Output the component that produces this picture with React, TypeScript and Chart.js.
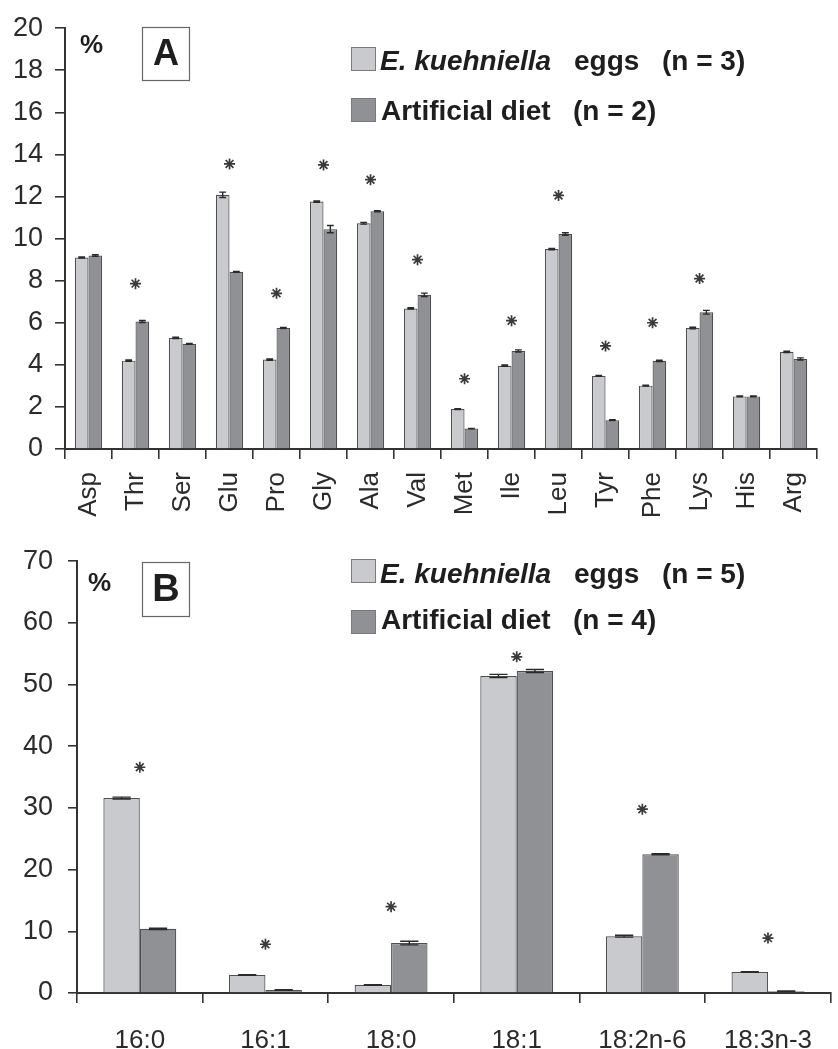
import React, { useEffect, useRef } from 'react';
import { Chart, registerables } from 'chart.js';

Chart.register(...registerables);

// ---------- Panel A: amino acids ----------
const aminoAcids = ['Asp', 'Thr', 'Ser', 'Glu', 'Pro', 'Gly', 'Ala', 'Val', 'Met', 'Ile', 'Leu', 'Tyr', 'Phe', 'Lys', 'His', 'Arg'];
const aEggs = [9.1, 4.2, 5.28, 12.08, 4.25, 11.76, 10.73, 6.68, 1.9, 3.96, 9.5, 3.47, 3.01, 5.75, 2.5, 4.62];
const aDiet = [9.2, 6.06, 5.0, 8.42, 5.75, 10.45, 11.3, 7.33, 0.97, 4.66, 10.22, 1.37, 4.19, 6.5, 2.5, 4.28];
const aEggsErr = [0.03, 0.03, 0.03, 0.13, 0.03, 0.03, 0.04, 0.03, 0.02, 0.03, 0.03, 0.02, 0.02, 0.04, 0.02, 0.03];
const aDietErr = [0.04, 0.05, 0.02, 0.02, 0.03, 0.17, 0.03, 0.08, 0.01, 0.05, 0.06, 0.02, 0.03, 0.09, 0.02, 0.05];
const aStars = [null, 7.86, null, 13.55, 7.4, 13.5, 12.8, 9.0, 3.34, 6.1, 12.05, 4.9, 6.0, 8.1, null, null];
const aTicks = { min: 0, max: 20, step: 2 };
const aLegend = [
  [{ t: 'E. kuehniella', italic: true }, { t: 'eggs' }, { t: '(n = 3)' }],
  [{ t: 'Artificial diet' }, { t: '(n = 2)' }],
];

// ---------- Panel B: fatty acids ----------
const fattyAcids = ['16:0', '16:1', '18:0', '18:1', '18:2n-6', '18:3n-3'];
const bEggs = [31.6, 2.9, 1.3, 51.4, 9.2, 3.4];
const bDiet = [10.4, 0.5, 8.1, 52.2, 22.5, 0.3];
const bEggsErr = [0.15, 0.05, 0.05, 0.25, 0.15, 0.05];
const bDietErr = [0.1, 0.05, 0.3, 0.25, 0.1, 0.03];
const bStars = [36.6, 7.9, 14.0, 54.5, 29.8, 8.9];
const bTicks = { min: 0, max: 70, step: 10 };
const bLegend = [
  [{ t: 'E. kuehniella', italic: true }, { t: 'eggs' }, { t: '(n = 5)' }],
  [{ t: 'Artificial diet' }, { t: '(n = 4)' }],
];

const LIGHT = '#c9cacd';
const DARK = '#909195';
const EDGE = '#4f4f4f';
const AXIS = '#333333';
const FONT = '"Liberation Sans", Arial, Helvetica, sans-serif';

type Piece = { t: string; italic?: boolean };

interface PanelCfg {
  letter: string;
  letterSize: number;
  errors: number[][];
  legend: Piece[][];
  legendX: number[][];
  legendBaseY: number[];
  boxTop: number[];
  letterBox: { x: number; y: number; w: number; h: number };
  pct: { x: number; y: number };
}

function makeOverlay(cfg: PanelCfg) {
  return {
    id: 'overlay' + cfg.letter,
    afterDatasetsDraw(chart: any) {
      const ctx = chart.ctx;
      const ys = chart.scales.y;
      cfg.errors.forEach((errs, di) => {
        const meta = chart.getDatasetMeta(di);
        const ds = chart.data.datasets[di];
        meta.data.forEach((el: any, i: number) => {
          const v = ds.data[i];
          const e = errs[i];
          if (!e) return;
          const x = el.x;
          const w = el.width * 0.5;
          const yt = ys.getPixelForValue(v + e);
          const yb = ys.getPixelForValue(v - e);
          ctx.save();
          ctx.strokeStyle = '#2a2a2a';
          ctx.lineWidth = 1.4;
          ctx.beginPath();
          ctx.moveTo(x, yt);
          ctx.lineTo(x, yb);
          ctx.moveTo(x - w / 2, yt);
          ctx.lineTo(x + w / 2, yt);
          ctx.moveTo(x - w / 2, yb);
          ctx.lineTo(x + w / 2, yb);
          ctx.stroke();
          ctx.restore();
        });
      });
    },
    afterDraw(chart: any) {
      const ctx = chart.ctx;
      ctx.save();
      // percent sign
      ctx.fillStyle = '#1e1e1e';
      ctx.font = `bold 26px ${FONT}`;
      ctx.textAlign = 'left';
      ctx.textBaseline = 'alphabetic';
      ctx.fillText('%', cfg.pct.x, cfg.pct.y);
      // letter box
      const lb = cfg.letterBox;
      ctx.strokeStyle = '#666';
      ctx.lineWidth = 1.2;
      ctx.strokeRect(lb.x + 0.5, lb.y + 0.5, lb.w, lb.h);
      ctx.font = `bold ${cfg.letterSize}px ${FONT}`;
      ctx.textAlign = 'center';
      ctx.textBaseline = 'middle';
      ctx.fillText(cfg.letter, lb.x + lb.w / 2 + 0.5, lb.y + lb.h / 2 + 2);
      // legend
      const fills = [LIGHT, DARK];
      cfg.legend.forEach((row, ri) => {
        const top = cfg.boxTop[ri];
        ctx.fillStyle = fills[ri];
        ctx.fillRect(351, top, 25, 24);
        ctx.strokeStyle = '#7a7a7a';
        ctx.lineWidth = 1;
        ctx.strokeRect(351.5, top + 0.5, 24, 23);
        ctx.fillStyle = '#1e1e1e';
        ctx.textAlign = 'left';
        ctx.textBaseline = 'alphabetic';
        row.forEach((p, pi) => {
          ctx.font = `${p.italic ? 'italic ' : ''}bold 28px ${FONT}`;
          ctx.fillText(p.t, cfg.legendX[ri][pi], cfg.legendBaseY[ri]);
        });
      });
      ctx.restore();
    },
  };
}

function buildConfig(
  labels: string[],
  eggs: number[],
  diet: number[],
  stars: (number | null)[],
  ticks: { min: number; max: number; step: number },
  layout: { top: number; right: number; yWidth: number; xHeight: number; tickPad: number; rotate: boolean; yPad: number; yTickLen: number },
  overlay: any
): any {
  return {
    type: 'bar',
    data: {
      labels,
      datasets: [
        {
          label: 'E. kuehniella eggs',
          data: eggs,
          backgroundColor: LIGHT,
          borderColor: EDGE,
          borderWidth: 1.2,
          categoryPercentage: 0.58,
          barPercentage: 1.0,
          order: 2,
        },
        {
          label: 'Artificial diet',
          data: diet,
          backgroundColor: DARK,
          borderColor: EDGE,
          borderWidth: 1.2,
          categoryPercentage: 0.58,
          barPercentage: 1.0,
          order: 2,
        },
        {
          type: 'line',
          label: 'significance',
          data: stars,
          showLine: false,
          pointStyle: 'star',
          pointRadius: 5.5,
          pointBorderWidth: 1.7,
          pointBorderColor: '#3a3a3a',
          pointBackgroundColor: '#3a3a3a',
          order: 0,
        },
      ],
    },
    options: {
      animation: false,
      responsive: false,
      events: [],
      layout: { padding: { top: layout.top, right: layout.right, left: 0, bottom: 0 } },
      plugins: { legend: { display: false }, tooltip: { enabled: false } },
      scales: {
        x: {
          afterFit: (s: any) => {
            s.height = layout.xHeight;
          },
          border: { display: true, color: AXIS, width: 2 },
          grid: { display: true, drawOnChartArea: false, drawTicks: true, tickLength: 10, color: AXIS, lineWidth: 1.6, offset: true },
          ticks: {
            color: '#2b2b2b',
            font: { family: FONT, size: 26 },
            autoSkip: false,
            maxRotation: layout.rotate ? 90 : 0,
            minRotation: layout.rotate ? 90 : 0,
            padding: layout.tickPad,
          },
        },
        y: {
          min: ticks.min,
          max: ticks.max,
          afterFit: (s: any) => {
            s.width = layout.yWidth;
          },
          border: { display: true, color: AXIS, width: 2 },
          grid: { display: true, drawOnChartArea: false, drawTicks: true, tickLength: layout.yTickLen, color: AXIS, lineWidth: 1.6 },
          ticks: {
            stepSize: ticks.step,
            color: '#2b2b2b',
            font: { family: FONT, size: 27 },
            padding: layout.yPad,
          },
        },
      },
    },
    plugins: [overlay],
  };
}

export default function App() {
  const refA = useRef<HTMLCanvasElement | null>(null);
  const refB = useRef<HTMLCanvasElement | null>(null);

  useEffect(() => {
    const overlayA = makeOverlay({
      letter: 'A',
      letterSize: 36,
      errors: [aEggsErr, aDietErr],
      legend: aLegend,
      legendX: [[380, 574, 662], [381, 573]],
      legendBaseY: [70, 120],
      boxTop: [47, 98],
      letterBox: { x: 142, y: 27, w: 47, h: 53 },
      pct: { x: 80, y: 53 },
    });
    const overlayB = makeOverlay({
      letter: 'B',
      letterSize: 38,
      errors: [bEggsErr, bDietErr],
      legend: bLegend,
      legendX: [[380, 574, 662], [381, 573]],
      legendBaseY: [583 - 530, 629 - 530],
      boxTop: [559 - 530, 610 - 530],
      letterBox: { x: 142, y: 562 - 530, w: 47, h: 54 },
      pct: { x: 88, y: 591 - 530 },
    });

    const chartA = new Chart(
      refA.current as HTMLCanvasElement,
      buildConfig(aminoAcids, aEggs, aDiet, aStars, aTicks,
        { top: 24, right: 2, yWidth: 65, xHeight: 81, tickPad: 13, rotate: true, yPad: 12, yTickLen: 10 }, overlayA)
    );
    const chartB = new Chart(
      refB.current as HTMLCanvasElement,
      buildConfig(fattyAcids, bEggs, bDiet, bStars, bTicks,
        { top: 31, right: 0, yWidth: 77, xHeight: 56, tickPad: 22, rotate: false, yPad: 15, yTickLen: 9 }, overlayB)
    );
    return () => {
      chartA.destroy();
      chartB.destroy();
    };
  }, []);

  return (
    <div style={{ position: 'absolute', left: 0, top: 0, width: 838, height: 1049, background: '#fff', overflow: 'hidden' }}>
      <canvas ref={refA} width={838} height={530} style={{ display: 'block', position: 'absolute', left: 0, top: 0 }} />
      <canvas ref={refB} width={838} height={519} style={{ display: 'block', position: 'absolute', left: 0, top: 530 }} />
    </div>
  );
}
